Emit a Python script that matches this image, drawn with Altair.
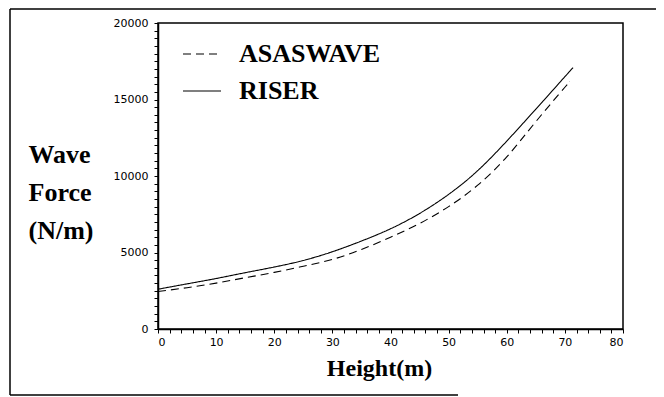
import altair as alt
import pandas as pd

# Data
riser_height = [0, 5, 10, 15, 20, 25, 30, 35, 40, 45, 50, 55, 60, 65, 70, 71.4]
riser_force = [2600, 2950, 3300, 3680, 4050, 4480, 5050, 5750, 6550, 7550, 8800, 10350, 12280, 14370, 16490, 17080]
asas_height = [0, 5, 10, 15, 20, 25, 30, 35, 40, 45, 50, 55, 60, 65, 70, 70.8]
asas_force = [2450, 2700, 3000, 3350, 3700, 4100, 4550, 5200, 6000, 6900, 8000, 9400, 11250, 13550, 15800, 16160]

series_names = ["ASASWAVE", "RISER"]
x_ticks = list(range(0, 81, 2))
y_ticks = list(range(0, 20001, 500))

df = pd.concat([
    pd.DataFrame({"Height": asas_height, "Force": asas_force, "Series": series_names[0]}),
    pd.DataFrame({"Height": riser_height, "Force": riser_force, "Series": series_names[1]}),
])

SERIF = "Liberation Serif"
SANS = "DejaVu Sans"

lines = alt.Chart(df).mark_line(interpolate="natural", strokeWidth=1.1, color="black").encode(
    x=alt.X("Height:Q", scale=alt.Scale(domain=[0, 80], nice=False),
            axis=alt.Axis(values=x_ticks, labelExpr="datum.value % 10 == 0 ? datum.label : ''",
                          labelOverlap=False, title="Height(m)", titleFont=SERIF, titleFontSize=24,
                          titleFontWeight="bold", titleX=221, titleY=46, titleBaseline="alphabetic",
                          titleAnchor="start", titleAlign="center",
                          labelFont=SANS, labelFontSize=11, labelPadding=3, labelColor="black",
                          tickSize=4, tickColor="black", domainColor="black", domainWidth=1.5,
                          grid=False)),
    y=alt.Y("Force:Q", scale=alt.Scale(domain=[0, 20000], nice=False),
            axis=alt.Axis(values=y_ticks, labelExpr="datum.value % 5000 == 0 ? datum.label : ''",
                          format="d", labelOverlap=False,
                          title=["Wave", "Force", "(N/m)"], titleAngle=0, titleFont=SERIF,
                          titleFontSize=26, titleFontWeight="bold", titleAlign="left",
                          titleBaseline="alphabetic", titleX=-130, titleY=139, titleLineHeight=38,
                          labelFont=SANS, labelFontSize=11, labelPadding=6, labelColor="black",
                          tickSize=4, tickColor="black", domainColor="black", domainWidth=1.5,
                          grid=False)),
    strokeDash=alt.StrokeDash("Series:N", scale=alt.Scale(domain=series_names, range=[[8, 5], [1, 0]]),
                              legend=alt.Legend(title=None, orient="none", legendX=24, legendY=11,
                                                symbolType="stroke", symbolSize=1444,
                                                symbolStrokeColor="black", symbolStrokeWidth=1.1,
                                                labelFont=SERIF, labelFontSize=26, labelFontWeight="bold",
                                                labelColor="black", labelOffset=17, rowPadding=4,
                                                padding=0, labelLimit=300)),
)

frame_left = alt.Chart().mark_rule(color="black", strokeWidth=1.5).encode(
    x=alt.value(-148), y=alt.value(-14), y2=alt.value(372))
frame_top = alt.Chart().mark_rule(color="black", strokeWidth=1.5).encode(
    x=alt.value(-148), x2=alt.value(498), y=alt.value(-14))
frame_bottom = alt.Chart().mark_rule(color="black", strokeWidth=1.5).encode(
    x=alt.value(-148), x2=alt.value(300), y=alt.value(372))

chart = alt.layer(lines, frame_left, frame_top, frame_bottom).properties(
    width=465, height=306,
    autosize=alt.AutoSizeParams(type="none"),
    padding={"left": 150, "top": 15, "right": 33, "bottom": 68},
    background="white",
).configure_view(stroke="black", strokeWidth=1.5)

chart.save("out.html", embed_options={"renderer": "svg", "actions": False})
